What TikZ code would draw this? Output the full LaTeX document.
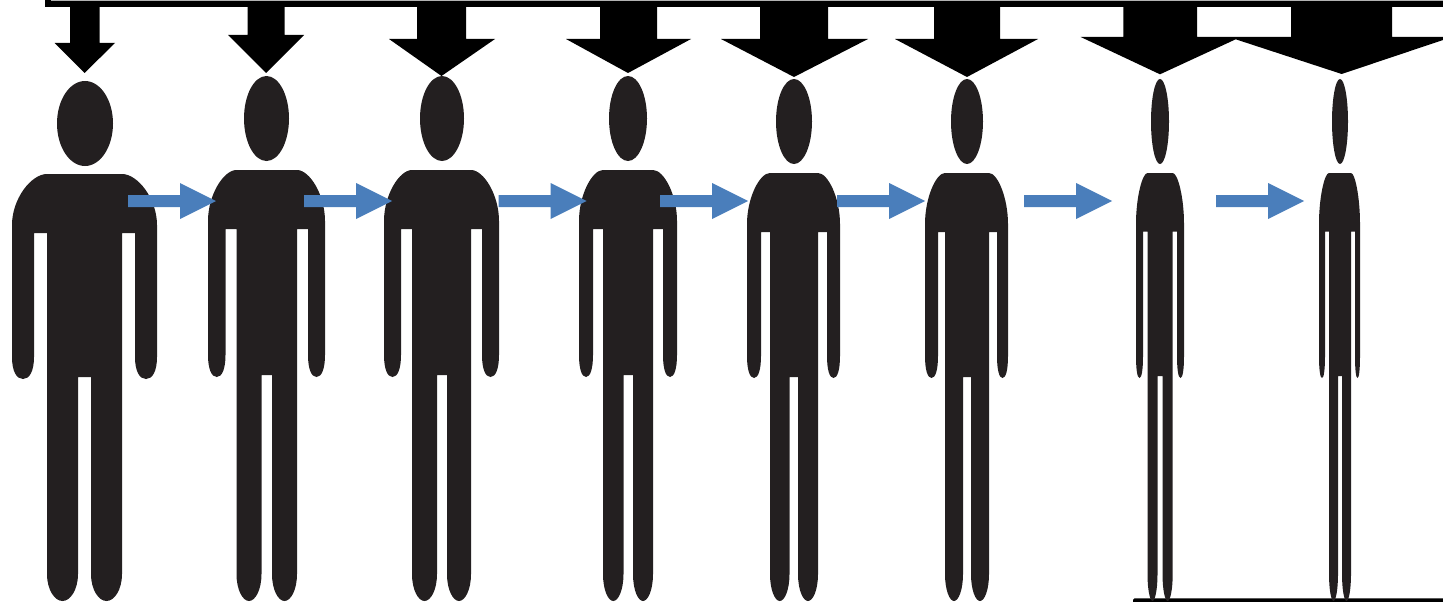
\documentclass[tikz,border=0pt]{standalone}
\definecolor{figdark}{HTML}{231F20}
\definecolor{flowblue}{HTML}{4A7EBB}
\tikzset{
  personfill/.style={fill=figdark,draw=none},
  pressfill/.style={fill=black,draw=none},
  flowfill/.style={fill=flowblue,draw=none}
}
% vertical levels of a figure: shoulder top, armpit, crotch, arm end
\newcommand{\figlevels}[4]{\def\yT{#1}\def\yA{#2}\def\yC{#3}\def\yB{#4}}
% head: cx, rx, top, bottom
\newcommand{\fighead}[4]{\path[personfill] (#1,{(#3+#4)/2}) ellipse [x radius=#2,y radius={(#4-#3)/2}];}
% body x: outerL, armInnerL, torsoL, legInnerL, legInnerR, torsoR, armInnerR, outerR
\newcommand{\figbody}[8]{%
  \path[personfill]
    (#1,{\yA-8}) .. controls (#1,{\yT+0.42*(\yA-\yT)}) and ({#1+0.55*(#3-#1)},\yT) .. (#3,\yT)
    -- (#6,\yT)
    .. controls ({#8-0.55*(#8-#6)},\yT) and (#8,{\yT+0.42*(\yA-\yT)}) .. (#8,{\yA-8})
    -- (#8,{\yB-22})
    .. controls (#8,{\yB-8}) and ({#8-0.2*(#8-#7)},\yB) .. ({(#7+#8)/2},\yB)
    .. controls ({#7+0.2*(#8-#7)},\yB) and (#7,{\yB-8}) .. (#7,{\yB-22})
    -- (#7,\yA) -- (#6,\yA) -- (#6,574)
    .. controls (#6,590) and ({#6-0.25*(#6-#5)},601) .. ({(#5+#6)/2},601)
    .. controls ({#5+0.25*(#6-#5)},601) and (#5,590) .. (#5,574)
    -- (#5,\yC) -- (#4,\yC) -- (#4,574)
    .. controls (#4,590) and ({#4-0.25*(#4-#3)},601) .. ({(#3+#4)/2},601)
    .. controls ({#3+0.25*(#4-#3)},601) and (#3,590) .. (#3,574)
    -- (#3,\yA) -- (#2,\yA) -- (#2,{\yB-22})
    .. controls (#2,{\yB-8}) and ({#2-0.2*(#2-#1)},\yB) .. ({(#1+#2)/2},\yB)
    .. controls ({#1+0.2*(#2-#1)},\yB) and (#1,{\yB-8}) .. (#1,{\yB-22})
    -- cycle;}
% black pressure arrow: shaftL, shaftR, headY, wingL, wingR, tipX, tipY
\newcommand{\pressarrow}[7]{%
  \path[pressfill] (#1,5) -- (#1,#3) -- (#4,#3) -- (#6,#7) -- (#5,#3) -- (#2,#3) -- (#2,5) -- cycle;}
% blue arrow: start x
\newcommand{\flowarrow}[1]{%
  \path[flowfill] (#1,195) -- ({#1+52},195) -- ({#1+52},183) -- ({#1+88},201)
    -- ({#1+52},219) -- ({#1+52},207) -- (#1,207) -- cycle;}
\begin{document}
\begin{tikzpicture}[x=1pt,y=-1pt]
\useasboundingbox (0,0) rectangle (1443,602);
% top bar and floor
\path[pressfill] (45,0) rectangle (1443,6.7);
\path[fill=black!30] (51,0) rectangle (1443,1);
\path[pressfill,rounded corners=1.5pt] (1133,598.3) rectangle (1445,604);
% black arrows
\pressarrow{70}{99.5}{43}{54.5}{115}{84.5}{73}
\pressarrow{247.5}{284.5}{35}{228}{304}{266}{73}
\pressarrow{417}{466}{39}{389}{495}{441.5}{76}
\pressarrow{600}{657}{39}{566}{691}{628}{73}
\pressarrow{760}{828}{39}{721}{868}{794}{77}
\pressarrow{934}{1000}{39}{895}{1038}{967}{77}
\path[pressfill] (1123.3,5) -- (1123.3,37) -- (1080.7,37) -- (1160,74.3) -- (1235.7,39.3)
  -- (1341.7,74) -- (1443,40) -- (1443,37) -- (1392,37) -- (1392,5) -- (1291,5) -- (1291,37)
  -- (1197,37) -- (1197,5) -- cycle;
% figures
\figlevels{174}{233}{377}{379}
\fighead{85}{28}{81}{166}
\figbody{12}{34}{47}{78}{91}{122}{135}{157}
\figlevels{170}{229}{375}{377}
\fighead{266.5}{22.5}{76}{161}
\figbody{208}{225.5}{236.5}{261.5}{272}{297}{308}{325}
\fighead{442}{22}{76}{161}
\figbody{384}{401}{412}{437}{447}{471}{482}{499}
\fighead{628}{19}{76}{161}
\figbody{579}{593}{603}{623.5}{633}{653}{663}{677}
\figlevels{173}{232}{377}{378}
\fighead{794}{18}{79}{164}
\figbody{747}{761}{770}{789.5}{798}{818}{827}{840}
\fighead{967}{16}{79}{164}
\figbody{925}{938}{945}{963}{971}{989}{997}{1008}
\figlevels{173}{231.5}{376}{378}
\fighead{1160}{9}{79}{164}
\figbody{1136}{1143}{1147.5}{1157.5}{1162.5}{1172.7}{1177}{1184}
\fighead{1340}{8}{79}{164}
\figbody{1319}{1325}{1329}{1338}{1342}{1351}{1355}{1360}
% blue arrows
\flowarrow{128}
\flowarrow{304}
\flowarrow{498.5}
\flowarrow{660}
\flowarrow{837}
\flowarrow{1024}
\flowarrow{1216}
\end{tikzpicture}
\end{document}
